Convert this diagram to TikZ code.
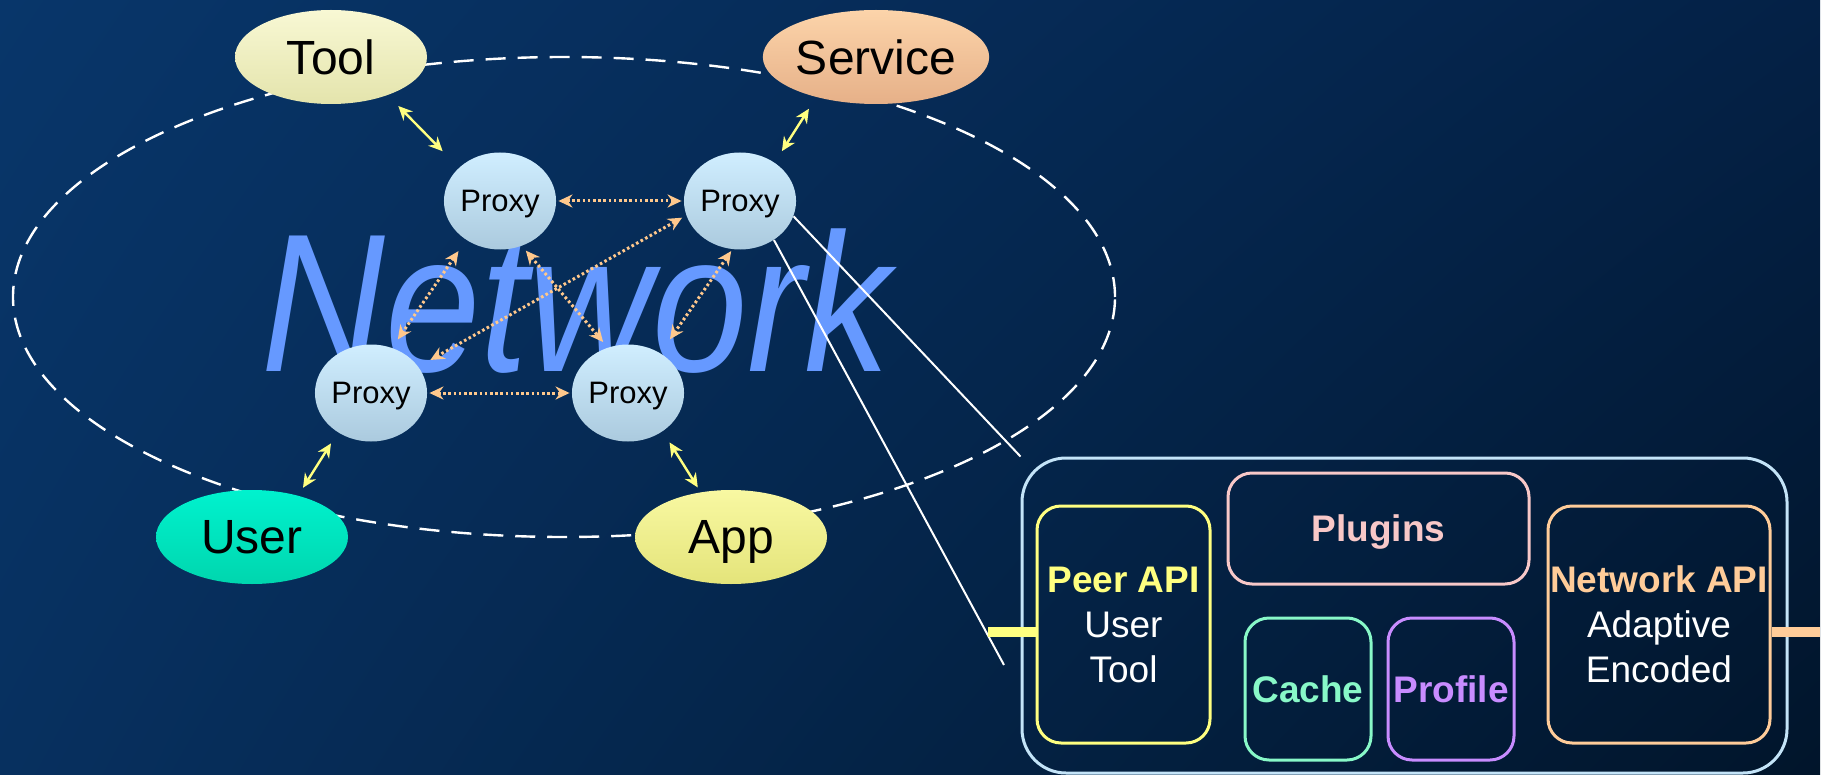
\documentclass[tikz,border=0pt]{standalone}
\usepackage{fontspec}
\setmainfont{Liberation Sans}
\usetikzlibrary{shapes.geometric,arrows.meta,shadings}

\definecolor{bgUL}{RGB}{8,54,106}
\definecolor{bgLL}{RGB}{7,48,95}
\definecolor{bgUR}{RGB}{4,33,70}
\definecolor{bgLR}{RGB}{1,21,43}
\definecolor{toolA}{HTML}{F8F8D4}
\definecolor{toolB}{HTML}{E4E4AC}
\definecolor{servA}{HTML}{FCD4AA}
\definecolor{servB}{HTML}{E6B088}
\definecolor{userA}{HTML}{00F2CE}
\definecolor{userB}{HTML}{00D6AE}
\definecolor{appA}{HTML}{F8F8A2}
\definecolor{appB}{HTML}{E4E47A}
\definecolor{proxA}{HTML}{D0EEFF}
\definecolor{proxB}{HTML}{ABCADE}
\definecolor{netblue}{HTML}{6699FF}
\definecolor{yel}{HTML}{FFFF80}
\definecolor{orng}{HTML}{FFC88C}
\definecolor{boxblue}{HTML}{C4E4F8}
\definecolor{pink}{HTML}{F8C8C8}
\definecolor{mint}{HTML}{88F8C8}
\definecolor{lav}{HTML}{C88CFF}
\definecolor{peach}{HTML}{FFCC99}

\begin{document}
\begin{tikzpicture}[x=0.5pt,y=-0.5pt,
bubble/.style={
  ellipse,
  inner sep=0,
  text depth=0pt,
  minimum width=96pt,
  minimum height=47pt,
  font=\fontsize{24}{28}\selectfont
  },
proxy/.style={
  ellipse,
  inner sep=0,
  text depth=0pt,
  minimum width=55.5pt,
  minimum height=48.5pt,
  top color=proxA,
  bottom color=proxB,
  font=\fontsize{15.5}{18}\selectfont
  },
part/.style={
  draw,
  rounded corners=12pt,
  line width=1.5pt,
  inner sep=0,
  align=center,
  text=white,
  font=\fontsize{18.5}{22.5}\selectfont
  },
yarr/.style={<->,draw=yel,line width=1.2pt},
darr/.style={<->,draw=orng,line width=1.5pt,dash pattern=on 1.3pt off 1.3pt},
callout/.style={draw=white,line width=1pt},
stub/.style={line width=5pt},
>={Stealth[length=7pt,width=6.5pt]}]

\useasboundingbox (0,0) rectangle (1829,775);
\shade[upper left=bgUL,lower left=bgLL,upper right=bgUR,lower right=bgLR] (0,0) rectangle (1820,775);

\draw[white,line width=1.2pt,dash pattern=on 10pt off 6pt] (564,297) ellipse [x radius=275.5pt,y radius=120pt];

\node[anchor=base,text=netblue,xscale=0.87,font=\fontsize{98.5}{100}\selectfont\itshape] (nettext) at (576,371) {Network};

\node[proxy] (p1) at (500,201) {Proxy};
\node[proxy] (p2) at (740,201) {Proxy};
\node[proxy] (p3) at (371,393) {Proxy};
\node[proxy] (p4) at (628,393) {Proxy};

\node[bubble,top color=toolA,bottom color=toolB] (tool) at (331,57) {Tool};
\node[bubble,top color=servA,bottom color=servB] (serv) at (876,57) {Service};
\node[bubble,top color=userA,bottom color=userB] (user) at (252,537) {User};
\node[bubble,top color=appA,bottom color=appB] (app) at (731,537) {App};

\foreach \s/\sa/\t/\ta/\ls/\lt in {tool/-34.7/p1/141.3/7.5/11.5, serv/-146.9/p2/48.4/6.8/6.7, user/42.5/p3/-130.9/4.5/6.4, app/124.2/p4/-48.2/2.7/6.4}
  \draw[yarr,shorten <=\ls pt,shorten >=\lt pt] (\s.\sa) -- (\t.\ta);

\foreach \s/\sa/\t/\ta/\ls/\lt in {p1/0/p2/180/1/1, p3/0/p4/180/1/1, p1/-131.3/p3/65.6/6.7/5, p1/-64.6/p4/114.7/3/3.5, p2/-165.5/p3/29.7/2.3/6.8, p2/-99.5/p4/51.2/1/8.3}
  \draw[darr,shorten <=\ls pt,shorten >=\lt pt] (\s.\sa) -- (\t.\ta);

\node[draw=boxblue,line width=1.5pt,rounded corners=22pt,minimum width=382.5pt,minimum height=157.5pt,inner sep=0] (chip) at (1404.5,615.5) {};
\coordinate (calloutB) at (1004,665);
\draw[callout] (p2.-16) -- (chip.north west);
\draw[callout] (p2.-49.5) -- (calloutB);

\node[part,draw=yel,minimum width=86.5pt,minimum height=118.5pt] (peer) at (1123.5,624.5) {\textbf{\color{yel}Peer API}\\User\\Tool};
\node[part,draw=pink,text depth=0pt,minimum width=150.5pt,minimum height=55.5pt] (plug) at (1378.5,528.5) {\textbf{\color{pink}Plugins}};
\node[part,draw=mint,minimum width=63pt,minimum height=71pt] (cache) at (1308,689) {\textbf{\color{mint}Cache}};
\node[part,draw=lav,minimum width=63pt,minimum height=71pt] (prof) at (1451,689) {\textbf{\color{lav}Profile}};
\node[part,draw=peach,minimum width=111pt,minimum height=118.5pt] (netapi) at (1659,624.5) {\textbf{\color{peach}Network API}\\Adaptive\\Encoded};

\coordinate (stubL) at (988,632);
\coordinate (stubR) at (1820,632);
\draw[stub,yel] (stubL) -- (stubL -| peer.west);
\draw[stub,peach] (stubR -| netapi.east) -- (stubR);

\end{tikzpicture}
\end{document}
